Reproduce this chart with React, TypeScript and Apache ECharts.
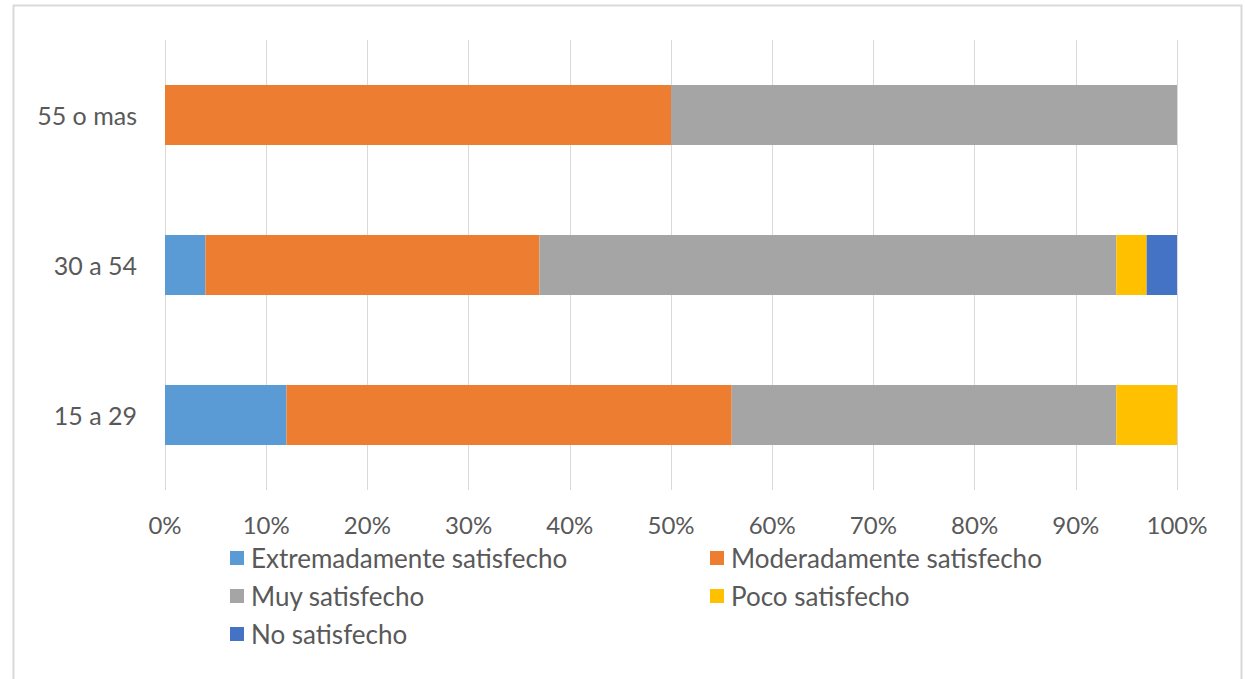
import React, { useEffect, useRef } from "react";
import * as echarts from "echarts";

const categories = ["15 a 29", "30 a 54", "55 o mas"];
const seriesNames = [
  "Extremadamente satisfecho",
  "Moderadamente satisfecho",
  "Muy satisfecho",
  "Poco satisfecho",
  "No satisfecho",
];
const extremadamente = [12, 4, 0];
const moderadamente = [44, 33, 50];
const muy = [38, 57, 50];
const poco = [6, 3, 0];
const noSatisfecho = [0, 3, 0];
const colors = ["#5B9BD5", "#ED7D31", "#A5A5A5", "#FFC000", "#4472C4"];

export default function App() {
  const ref = useRef<HTMLDivElement>(null);
  useEffect(() => {
    if (!ref.current) return;
    const chart = echarts.init(ref.current, null, { renderer: "svg" });
    const values = [extremadamente, moderadamente, muy, poco, noSatisfecho];
    const font = "Lato, 'Open Sans', sans-serif";
    chart.setOption({
      animation: false,
      textStyle: { fontFamily: font },
      graphic: [
        {
          type: "rect",
          shape: { x: 13.5, y: 5.5, width: 1228, height: 700 },
          style: { fill: "none", stroke: "#d9d9d9", lineWidth: 2 },
          silent: true,
        },
      ],
      grid: { left: 165, right: 68, top: 40, bottom: 189, containLabel: false },
      xAxis: {
        type: "value",
        min: 0,
        max: 100,
        interval: 10,
        axisLine: { show: false },
        axisTick: { show: false },
        splitLine: { show: true, lineStyle: { color: "#d9d9d9", width: 1 } },
        axisLabel: {
          formatter: "{value}%",
          color: "#595959",
          fontSize: 24,
          fontFamily: font,
          margin: 22,
        },
      },
      yAxis: {
        type: "category",
        data: categories,
        axisLine: { show: false },
        axisTick: { show: false },
        axisLabel: { color: "#595959", fontSize: 25, fontFamily: font, margin: 28 },
      },
      legend: {
        left: 225,
        top: 540,
        width: 1010,
        itemWidth: 14,
        itemHeight: 14,
        itemGap: 12,
        icon: "rect",
        data: seriesNames,
        textStyle: {
          color: "#595959",
          fontSize: 26,
          fontFamily: font,
          width: 447,
          overflow: "truncate",
          padding: [0, 0, 0, 2],
          lineHeight: 26,
        },
      },
      series: seriesNames.map((name, i) => ({
        name,
        type: "bar",
        stack: "total",
        data: values[i],
        barWidth: 60,
        itemStyle: { color: colors[i] },
      })),
    });
    return () => chart.dispose();
  }, []);
  return (
    <div
      ref={ref}
      style={{ position: "fixed", left: 0, top: 0, width: 1245, height: 679, background: "#fff" }}
    />
  );
}
